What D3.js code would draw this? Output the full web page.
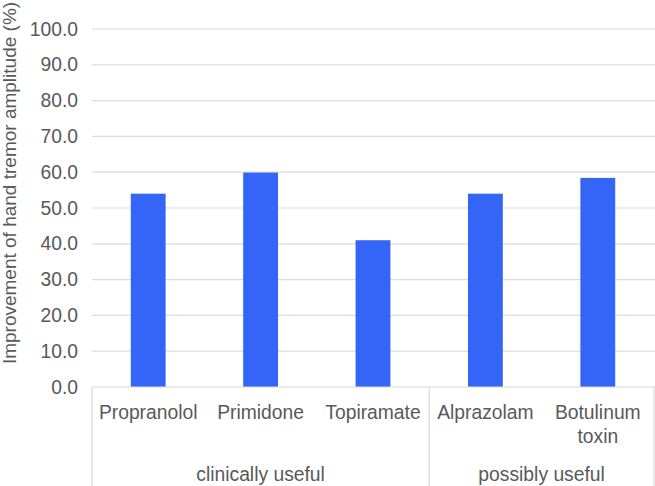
<!DOCTYPE html>
<html><head><meta charset="utf-8">
<script src="https://cdn.jsdelivr.net/npm/d3@7"></script>
<style>body{margin:0;background:#fff}svg{display:block}</style>
</head><body>
<svg id="c" width="655" height="486"></svg>
<script>
const categories = ["Propranolol", "Primidone", "Topiramate", "Alprazolam", "Botulinum toxin"];
const values = [54.0, 59.9, 41.0, 54.0, 58.4];
const groups = ["clinically useful", "clinically useful", "clinically useful", "possibly useful", "possibly useful"];
const yTicks = [0, 10, 20, 30, 40, 50, 60, 70, 80, 90, 100];
const yTitle = "Improvement of hand tremor amplitude (%)";

const svg = d3.select("#c");
const font = "Liberation Sans, Arial, Helvetica, sans-serif";
const fs = 19.3;
const m = {left: 92, right: 654, top: 29, bottom: 387};
const x = d3.scaleBand().domain(categories).range([m.left, m.right]).paddingInner(0.69).paddingOuter(0.345);
const y = d3.scaleLinear().domain([0, 100]).range([m.bottom, m.top]);

// gridlines
svg.append("g").selectAll("line").data(yTicks.slice(1)).join("line")
  .attr("x1", m.left).attr("x2", 655)
  .attr("y1", d => y(d)).attr("y2", d => y(d))
  .attr("stroke", "#dcdcdc").attr("stroke-width", 1.2);

// y axis labels
const yAxis = d3.axisLeft(y).tickValues(yTicks).tickFormat(d3.format(".1f")).tickSize(0).tickPadding(14);
const ga = svg.append("g").attr("transform", `translate(${m.left},0)`).call(yAxis);
ga.select(".domain").remove();
ga.selectAll("text").attr("font-family", font).attr("font-size", fs).attr("fill", "#595959");

// bars
svg.append("g").selectAll("rect").data(categories).join("rect")
  .attr("x", d => x(d)).attr("width", x.bandwidth())
  .attr("y", (d, i) => y(values[i])).attr("height", (d, i) => y(0) - y(values[i]))
  .attr("fill", "#3565f6");

// x axis line
svg.append("line").attr("x1", m.left).attr("x2", 655).attr("y1", m.bottom).attr("y2", m.bottom)
  .attr("stroke", "#d9d9d9").attr("stroke-width", 1.2);

// group separators
const step = x.step();
const groupNames = [...new Set(groups)];
const bounds = [m.left];
groupNames.forEach(g => {
  const last = groups.lastIndexOf(g);
  bounds.push(x(categories[last]) + x.bandwidth() + (step - x.bandwidth()) / 2);
});
svg.append("g").selectAll("line").data(bounds).join("line")
  .attr("x1", d => d).attr("x2", d => d).attr("y1", m.bottom).attr("y2", 486)
  .attr("stroke", "#d9d9d9").attr("stroke-width", 1.2);

// category labels
const cl = svg.append("g").selectAll("text").data(categories).join("text")
  .attr("text-anchor", "middle").attr("font-family", font).attr("font-size", fs).attr("fill", "#595959");
cl.each(function(d) {
  const cx = x(d) + x.bandwidth() / 2;
  const words = d === "Botulinum toxin" ? ["Botulinum", "toxin"] : [d];
  words.forEach((w, j) => {
    d3.select(this).append("tspan").attr("x", cx).attr("y", 419 + j * 24).text(w);
  });
});

// group labels
groupNames.forEach((g, i) => {
  svg.append("text").attr("x", (bounds[i] + bounds[i + 1]) / 2).attr("y", 481)
    .attr("text-anchor", "middle").attr("font-family", font).attr("font-size", fs).attr("fill", "#595959")
    .text(g);
});

// y title
svg.append("text").attr("transform", "translate(16,183) rotate(-90)")
  .attr("text-anchor", "middle").attr("font-family", font).attr("font-size", 19).attr("fill", "#595959")
  .text(yTitle);
</script>
</body></html>
